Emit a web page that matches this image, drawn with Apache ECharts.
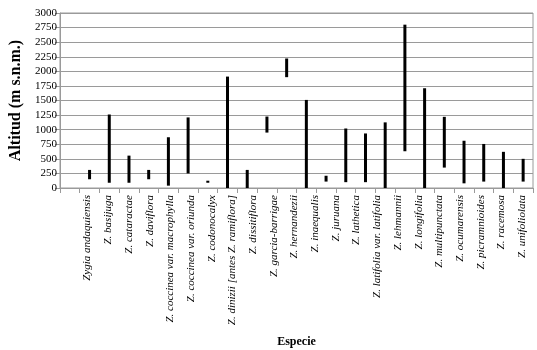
<!DOCTYPE html>
<html>
<head>
<meta charset="utf-8">
<script src="https://cdn.jsdelivr.net/npm/echarts@6/dist/echarts.min.js"></script>
<style>
  html, body { margin: 0; padding: 0; background: #fff; }
  #chart { width: 537px; height: 350px; }
</style>
</head>
<body>
<div id="chart"></div>
<script>
// etiquetas del eje X (22 nombres)
const species = [
  'Zygia andaquiensis', 'Z. basijuga', 'Z. cataractae', 'Z. daviflora',
  'Z. coccinea var. macrophylla', 'Z. coccinea var. oriunda', 'Z. codonocalyx',
  'Z. dinizii [antes Z. ramiflora]', 'Z. dissitiflora', 'Z. garcia-barrigae',
  'Z. hernandezii', 'Z. inaequalis', 'Z. juruana', 'Z. lathetica',
  'Z. latifolia var. latifolia', 'Z. lehmannii', 'Z. longifolia',
  'Z. multipunctata', 'Z. ocumarensis', 'Z. picramnioides', 'Z. racemosa',
  'Z. unifoliolata'
];
// rango altitudinal de cada barra (m s.n.m.), ocupan las ranuras 1..23
const low  = [150, 90, 90, 150, 40, 250, 90, 0, 0, 950, 1900, 0, 110, 100, 100, 0, 630, 0, 350, 80, 110, 0, 110];
const high = [310, 1260, 555, 310, 870, 1210, 125, 1910, 310, 1225, 2220, 1510, 210, 1020, 935, 1125, 2800, 1710, 1220, 810, 755, 620, 500];
const slotCount = 24;
const yTicks = [0, 250, 500, 750, 1000, 1250, 1500, 1750, 2000, 2250, 2500, 2750, 3000];

const slots = Array.from({ length: slotCount }, (_, i) => String(i));
const rangeData = low.map((v, i) => [i + 1, v, high[i]]);
const labelIdx = species.map((_, i) => i);

const serif = '"Liberation Serif", "DejaVu Serif", serif';
const gray = '#9a9a9a';

const chart = echarts.init(document.getElementById('chart'));
chart.setOption({
  animation: false,
  textStyle: { fontFamily: serif },
  grid: {
    left: 57, right: 4, top: 13, bottom: 162,
    show: true, borderColor: gray, borderWidth: 1, backgroundColor: 'transparent'
  },
  xAxis: [{
    type: 'category',
    data: slots,
    boundaryGap: true,
    name: 'Especie',
    nameLocation: 'middle',
    nameGap: 148,
    nameTextStyle: { fontFamily: serif, fontWeight: 'bold', fontSize: 12, color: '#000' },
    axisLine: { onZero: false, lineStyle: { color: gray } },
    axisTick: { show: true, length: 5, alignWithLabel: false, lineStyle: { color: gray } },
    axisLabel: { show: false },
    splitLine: { show: false }
  }, {
    type: 'value',
    position: 'bottom',
    min: -1.332,
    max: 21.524,
    axisLine: { show: false, onZero: false },
    axisTick: { show: false },
    splitLine: { show: false },
    axisLabel: {
      customValues: labelIdx,
      rotate: 90,
      margin: 7,
      fontFamily: serif,
      fontStyle: 'italic',
      fontSize: 11,
      color: '#000',
      formatter: v => species[Math.round(v)] || ''
    }
  }],
  yAxis: {
    type: 'value',
    min: yTicks[0],
    max: yTicks[yTicks.length - 1],
    interval: 250,
    name: 'Altitud (m s.n.m.)',
    nameLocation: 'middle',
    nameGap: 36,
    nameRotate: 90,
    nameTextStyle: { fontFamily: serif, fontWeight: 'bold', fontSize: 16, color: '#000' },
    axisLine: { show: true, onZero: false, lineStyle: { color: gray } },
    axisTick: { show: true, length: 5, lineStyle: { color: gray } },
    axisLabel: { margin: 3, fontFamily: serif, fontSize: 11, color: '#000', formatter: v => String(v) },
    splitLine: { lineStyle: { color: gray, width: 1 } }
  },
  series: [{
    type: 'custom',
    xAxisIndex: 0,
    yAxisIndex: 0,
    data: rangeData,
    encode: { x: 0, y: [1, 2] },
    renderItem: (params, api) => {
      const x = api.value(0);
      const lo = api.coord([x, api.value(1)]);
      const hi = api.coord([x, api.value(2)]);
      return {
        type: 'rect',
        shape: { x: lo[0] - 1.5, y: hi[1], width: 3, height: Math.max(lo[1] - hi[1], 1) },
        style: { fill: '#000' }
      };
    }
  }]
});
</script>
</body>
</html>
